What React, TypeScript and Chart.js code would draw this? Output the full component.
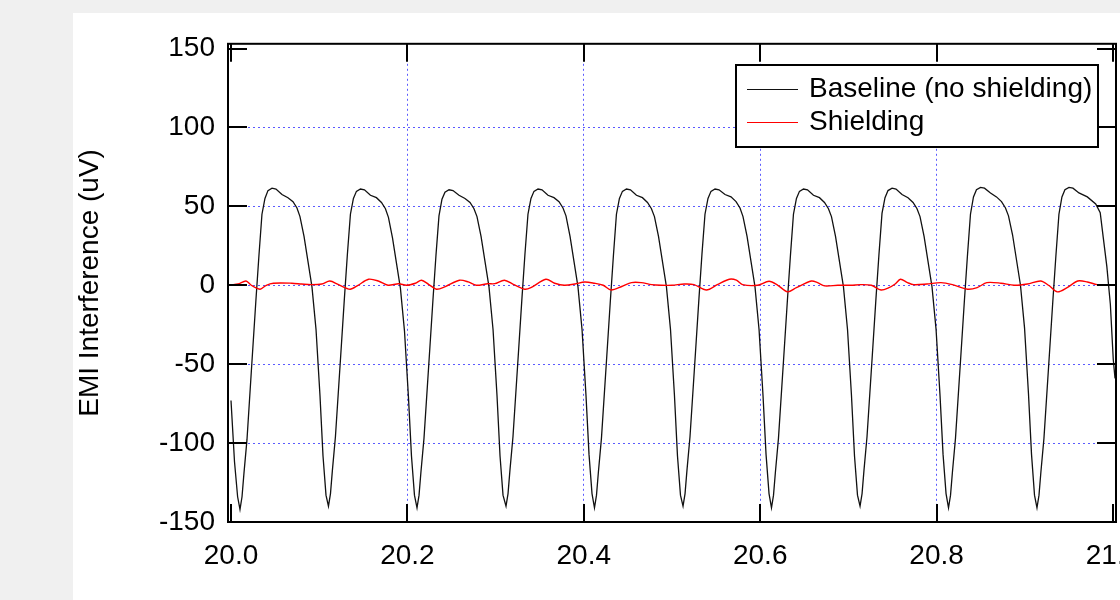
import React, { useEffect, useRef } from "react";
import { Chart, registerables } from "chart.js";

Chart.register(...registerables);

const FONT = '"Liberation Sans", Arial, Helvetica, sans-serif';

const xTicks = [20.0, 20.2, 20.4, 20.6, 20.8, 21.0];
const xTickLabels = ["20.0", "20.2", "20.4", "20.6", "20.8", "21.0"];
const yTicks = [-150, -100, -50, 0, 50, 100, 150];
const yTickLabels = ["-150", "-100", "-50", "0", "50", "100", "150"];

const yTitle = "EMI Interference (uV)";
const seriesNames = ["Baseline (no shielding)", "Shielding"];

// Baseline (no shielding): time (s)
const baselineX = [
  20.0, 20.004, 20.0075,
  20.0102, 20.0125, 20.0147, 20.0181, 20.0238, 20.0283, 20.0317, 20.0351, 20.0385, 20.0419, 20.0465, 20.051, 20.0578, 20.0646, 20.0703, 20.0748, 20.0782, 20.0828, 20.0873, 20.0918, 20.0964, 20.1009, 20.1043, 20.1077,
  20.1105, 20.1128, 20.115, 20.1184, 20.1241, 20.1286, 20.132, 20.1354, 20.1388, 20.1422, 20.1468, 20.1513, 20.1581, 20.1649, 20.1706, 20.1751, 20.1785, 20.1831, 20.1876, 20.1921, 20.1967, 20.2012, 20.2046, 20.208,
  20.2109, 20.2132, 20.2154, 20.2188, 20.2245, 20.229, 20.2324, 20.2358, 20.2392, 20.2426, 20.2472, 20.2517, 20.2585, 20.2653, 20.271, 20.2755, 20.2789, 20.2835, 20.288, 20.2925, 20.2971, 20.3016, 20.305, 20.3084,
  20.3118, 20.3141, 20.3163, 20.3197, 20.3254, 20.3299, 20.3333, 20.3367, 20.3401, 20.3435, 20.3481, 20.3526, 20.3594, 20.3662, 20.3719, 20.3764, 20.3798, 20.3844, 20.3889, 20.3934, 20.398, 20.4025, 20.4059, 20.4093,
  20.4121, 20.4144, 20.4166, 20.42, 20.4257, 20.4302, 20.4336, 20.437, 20.4404, 20.4438, 20.4484, 20.4529, 20.4597, 20.4665, 20.4722, 20.4767, 20.4801, 20.4847, 20.4892, 20.4937, 20.4983, 20.5028, 20.5062, 20.5096,
  20.5125, 20.5148, 20.517, 20.5204, 20.5261, 20.5306, 20.534, 20.5374, 20.5408, 20.5442, 20.5488, 20.5533, 20.5601, 20.5669, 20.5726, 20.5771, 20.5805, 20.5851, 20.5896, 20.5941, 20.5987, 20.6032, 20.6066, 20.61,
  20.6128, 20.6151, 20.6173, 20.6207, 20.6264, 20.6309, 20.6343, 20.6377, 20.6411, 20.6445, 20.6491, 20.6536, 20.6604, 20.6672, 20.6729, 20.6774, 20.6808, 20.6854, 20.6899, 20.6944, 20.699, 20.7035, 20.7069, 20.7103,
  20.7132, 20.7155, 20.7177, 20.7211, 20.7268, 20.7313, 20.7347, 20.7381, 20.7415, 20.7449, 20.7495, 20.754, 20.7608, 20.7676, 20.7733, 20.7778, 20.7812, 20.7858, 20.7903, 20.7948, 20.7994, 20.8039, 20.8073, 20.8107,
  20.8135, 20.8158, 20.818, 20.8214, 20.8271, 20.8316, 20.835, 20.8384, 20.8418, 20.8452, 20.8498, 20.8543, 20.8611, 20.8679, 20.8736, 20.8781, 20.8815, 20.8861, 20.8906, 20.8951, 20.8997, 20.9042, 20.9076, 20.911,
  20.9138, 20.9161, 20.9183, 20.9217, 20.9274, 20.9319, 20.9353, 20.9387, 20.9421, 20.9455, 20.9501, 20.9546, 20.9614, 20.9709, 20.9804, 20.9855, 20.989, 20.993, 20.997, 21.0003, 21.0023,
];

// Baseline (no shielding): interference (uV)
const baselineY = [
  -73, -112, -134,
  -142, -134, -119, -98, -48, -9, 19, 45, 55, 60, 61.5, 61, 57.5, 55.5, 53, 49, 43.5, 31, 15, -1, -28, -70, -108, -133,
  -140, -132, -117, -96, -47, -8, 20, 45, 55, 59.5, 61, 60.5, 57, 55.5, 52.5, 48.5, 43, 30, 14, -2, -29, -71, -108, -133,
  -141, -133, -118, -97, -48, -9, 19, 44, 54.5, 59, 60.5, 60, 57, 55, 52.5, 48.5, 43.5, 31, 15, -1, -28, -70, -108, -133,
  -140, -132, -117, -96, -47, -8, 20, 45, 55, 59.5, 61, 60.5, 57, 55.5, 53, 49, 44, 31, 15, -1, -28, -70, -107, -132,
  -141, -133, -118, -97, -48, -9, 19, 45, 55, 59.5, 61, 60.5, 57, 55.5, 52.5, 48.5, 43.5, 31, 15, -1, -28, -70, -108, -133,
  -140, -132, -117, -96, -47, -8, 20, 45, 55, 59.5, 61, 60.5, 57.5, 56, 53, 49, 43.5, 31, 15, -1, -28, -70, -107, -132,
  -141, -133, -118, -97, -48, -9, 19, 45, 55, 59.5, 61, 60.5, 57, 55.5, 52.5, 48.5, 43.5, 31, 15, -1, -28, -70, -108, -133,
  -140, -132, -117, -96, -47, -8, 20, 45.5, 55.5, 60, 61.5, 61, 57.5, 55.5, 52.5, 48.5, 43.5, 31, 15, -1, -28, -70, -107, -132,
  -141, -133, -118, -97, -48, -9, 19, 45, 56, 60.5, 62, 61.5, 58.5, 56, 53, 49, 44, 32, 16, 0, -27, -69, -107, -133,
  -141, -133, -118, -97, -48, -9, 19, 45, 56, 60.5, 62, 61.5, 58.5, 56, 51.5, 46, 30, 12, -12, -47, -59,
];

// Shielding: time (s)
const shieldX = [
  20.0, 20.008, 20.017, 20.023, 20.033, 20.04, 20.048, 20.069, 20.08, 20.091,
  20.103, 20.112, 20.122, 20.135, 20.144, 20.156, 20.167, 20.178, 20.19, 20.199,
  20.209, 20.216, 20.224, 20.233, 20.243, 20.259, 20.269, 20.278, 20.291, 20.299,
  20.31, 20.32, 20.333, 20.34, 20.357, 20.367, 20.378, 20.39, 20.401, 20.412,
  20.422, 20.431, 20.443, 20.454, 20.465, 20.477, 20.488, 20.5, 20.514, 20.525,
  20.539, 20.552, 20.565, 20.573, 20.58, 20.597, 20.61, 20.62, 20.631, 20.641,
  20.658, 20.665, 20.673, 20.688, 20.703, 20.714, 20.726, 20.737, 20.746, 20.753,
  20.759, 20.767, 20.774, 20.789, 20.805, 20.818, 20.835, 20.846, 20.857, 20.873,
  20.888, 20.903, 20.918, 20.927, 20.937, 20.948, 20.96, 20.971, 20.982, 20.994,
  21.003,
];

// Shielding: interference (uV)
const shieldY = [
  0.3, 0.8, 2.7, 0, -2.5, 0, 1.3, 1.3, 0.8, 0.4,
  0.8, 2.7, 0.4, -2.5, 0, 3.8, 2.7, 0, 1, 0,
  1.3, 3.2, 0.6, -2.5, -0.8, 3.2, 2.1, 0, 1, 1,
  3.2, 0.6, -2.5, -1.5, 3.8, 1.3, 0, 0.8, 2.1, 1.3,
  0, -3, -0.8, 1.7, 1.7, 0.4, 0, 0, 0.8, 0.4,
  -3, 0.6, 3.8, 3.2, 0.4, 0, 2.5, 0, -4.2, -1.5,
  2.7, 1.7, -0.4, 0, 0, 0.4, 0, -3, -1.5, 0.8,
  3.8, 1.7, 0.4, 0.8, 1.7, 0.4, -2.5, -1.5, 1.7, 1.3,
  0, 0.8, 2.7, 0, -4.2, -1.5, 2.7, 2.1, 0.4, 0,
  0,
];

const lineColors = ["#111111", "#ff0000"];

const framePlugin = {
  id: "matlabFrame",
  afterDatasetsDraw(chart: any) {
    const { ctx, chartArea: a, scales } = chart;
    const xs = scales.x;
    const ys = scales.y;
    ctx.save();
    ctx.strokeStyle = "#000";
    ctx.lineWidth = 2;
    ctx.beginPath();
    for (const v of xTicks) {
      const px = Math.round(xs.getPixelForValue(v));
      ctx.moveTo(px, a.bottom);
      ctx.lineTo(px, a.bottom - 18);
      ctx.moveTo(px, a.top);
      ctx.lineTo(px, a.top + 18);
    }
    for (const v of yTicks) {
      const py = Math.round(ys.getPixelForValue(v));
      ctx.moveTo(a.left, py);
      ctx.lineTo(a.left + 19, py);
      ctx.moveTo(a.right, py);
      ctx.lineTo(a.right - 19, py);
    }
    ctx.stroke();
    ctx.strokeRect(a.left, a.top, a.right - a.left, a.bottom - a.top);
    ctx.restore();
  },
  afterDraw(chart: any) {
    const { ctx } = chart;
    ctx.save();
    // legend box
    ctx.fillStyle = "#fff";
    ctx.fillRect(664, 51, 362, 82);
    ctx.strokeStyle = "#000";
    ctx.lineWidth = 2;
    ctx.strokeRect(664, 51, 362, 82);
    const rows = [75.5, 108.5];
    ctx.font = `28px ${FONT}`;
    ctx.textBaseline = "middle";
    ctx.textAlign = "left";
    rows.forEach((y, i) => {
      ctx.strokeStyle = lineColors[i];
      ctx.lineWidth = 1;
      ctx.beginPath();
      ctx.moveTo(675, y);
      ctx.lineTo(726, y);
      ctx.stroke();
      ctx.fillStyle = "#000";
      ctx.fillText(seriesNames[i], 737, y);
    });
    ctx.restore();
  },
};

export default function App() {
  const canvasRef = useRef<HTMLCanvasElement | null>(null);

  useEffect(() => {
    const canvas = canvasRef.current;
    if (!canvas) return;
    Chart.defaults.font.family = FONT;
    Chart.defaults.color = "#000";

    const gridColor = (ctx: any, ticks: number[]) => {
      const v = ctx.tick ? ctx.tick.value : null;
      if (v === null) return "rgba(0,0,0,0)";
      if (Math.abs(v - ticks[0]) < 1e-6 || Math.abs(v - ticks[ticks.length - 1]) < 1e-6)
        return "rgba(0,0,0,0)";
      return "#5a5aff";
    };

    const chart = new Chart(canvas, {
      type: "line",
      data: {
        datasets: [
          {
            label: seriesNames[0],
            data: baselineX.map((x, i) => ({ x, y: baselineY[i] })),
            borderColor: lineColors[0],
            borderWidth: 1.3,
            pointRadius: 0,
            tension: 0,
            order: 2,
          },
          {
            label: seriesNames[1],
            data: shieldX.map((x, i) => ({ x, y: shieldY[i] })),
            borderColor: lineColors[1],
            borderWidth: 1.4,
            pointRadius: 0,
            tension: 0.3,
            order: 1,
          },
        ],
      },
      options: {
        responsive: false,
        animation: false,
        devicePixelRatio: 1,
        layout: { padding: { top: 29, right: 56, bottom: 0, left: 0 } },
        plugins: {
          legend: { display: false },
          tooltip: { enabled: false },
        },
        scales: {
          x: {
            type: "linear",
            min: 19.9966,
            max: 21.0034,
            afterFit: (s: any) => {
              s.height = 92;
            },
            afterBuildTicks: (s: any) => {
              s.ticks = xTicks.map((v) => ({ value: v }));
            },
            ticks: {
              autoSkip: false,
              maxRotation: 0,
              padding: 17,
              font: { size: 28, family: FONT },
              color: "#000",
              callback: (v: any) => {
                const i = xTicks.findIndex((t) => Math.abs(t - v) < 1e-6);
                return i >= 0 ? xTickLabels[i] : "";
              },
            },
            grid: {
              drawTicks: false,
              lineWidth: 1,
              color: (ctx: any) => gridColor(ctx, xTicks),
            },
            border: { display: false, dash: [2, 3] },
          },
          y: {
            type: "linear",
            min: -150,
            max: 153,
            afterFit: (s: any) => {
              s.width = 156;
            },
            afterBuildTicks: (s: any) => {
              s.ticks = yTicks.map((v) => ({ value: v }));
            },
            ticks: {
              autoSkip: false,
              padding: 13,
              font: { size: 28, family: FONT },
              color: "#000",
              callback: (v: any) => {
                const i = yTicks.findIndex((t) => Math.abs(t - v) < 1e-6);
                return i >= 0 ? yTickLabels[i] : "";
              },
            },
            title: {
              display: true,
              text: yTitle,
              color: "#000",
              font: { size: 28, family: FONT },
              padding: { top: 1, bottom: 0 },
            },
            grid: {
              drawTicks: false,
              lineWidth: 1,
              color: (ctx: any) => gridColor(ctx, yTicks),
            },
            border: { display: false, dash: [2, 3] },
          },
        },
      },
      plugins: [framePlugin],
    });
    return () => chart.destroy();
  }, []);

  return (
    <div
      style={{
        position: "fixed",
        left: 0,
        top: 0,
        width: 1120,
        height: 600,
        overflow: "hidden",
        background: "#f0f0f0",
      }}
    >
      <div
        style={{
          position: "absolute",
          left: 73,
          top: 13,
          width: 1200,
          height: 700,
          background: "#ffffff",
        }}
      />
      <canvas
        ref={canvasRef}
        width={1100}
        height={600}
        style={{ position: "absolute", left: 72, top: 14, display: "block" }}
      />
    </div>
  );
}
